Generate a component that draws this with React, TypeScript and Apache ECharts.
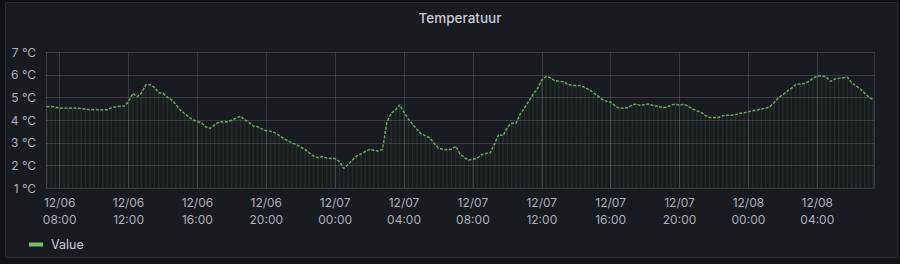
import React, { useEffect, useRef } from "react";
import * as echarts from "echarts";

// Start of series: 2023-12-06 07:15, one reading every 15 minutes
const startTime = [2023, 11, 6, 7, 15];
const stepMinutes = 15;

const temperatures: number[] = [
  // 07:15 - 07:45
  4.6, 4.62, 4.58,
  // 08:00
  4.53, 4.55, 4.53, 4.54,
  // 09:00
  4.53, 4.52, 4.5, 4.46,
  // 10:00
  4.48, 4.47, 4.46, 4.47,
  // 11:00
  4.55, 4.6, 4.62, 4.63,
  // 12:00
  4.82, 5.19, 5.04, 5.2,
  // 13:00
  5.56, 5.58, 5.45, 5.22,
  // 14:00
  5.19, 5.02, 4.9, 4.7,
  // 15:00
  4.46, 4.3, 4.15, 4.01,
  // 16:00
  3.95, 3.88, 3.7, 3.65,
  // 17:00
  3.8, 3.92, 3.94, 3.94,
  // 18:00
  4.0, 4.1, 4.18, 4.02,
  // 19:00
  3.9, 3.75, 3.72, 3.62,
  // 20:00
  3.54, 3.52, 3.45, 3.33,
  // 21:00
  3.2, 3.1, 3.01, 2.92,
  // 22:00
  2.82, 2.72, 2.56, 2.42,
  // 23:00
  2.35, 2.4, 2.33, 2.31,
  // 12/07 00:00
  2.31, 2.18, 1.88, 2.05,
  // 01:00
  2.25, 2.42, 2.52, 2.62,
  // 02:00
  2.72, 2.68, 2.65, 2.72,
  // 03:00
  3.9, 4.31, 4.45, 4.68,
  // 04:00
  4.35, 4.06, 3.82, 3.6,
  // 05:00
  3.4, 3.32, 3.22, 2.98,
  // 06:00
  2.78, 2.72, 2.7, 2.72,
  // 07:00
  2.85, 2.52, 2.35, 2.25,
  // 08:00
  2.28, 2.33, 2.48, 2.54,
  // 09:00
  2.56, 2.95, 3.38, 3.32,
  // 10:00
  3.7, 3.87, 3.87, 4.28,
  // 11:00
  4.55, 4.85, 5.15, 5.4,
  // 12:00
  5.78, 5.93, 5.88, 5.75,
  // 13:00
  5.72, 5.7, 5.6, 5.53,
  // 14:00
  5.53, 5.53, 5.45, 5.35,
  // 15:00
  5.22, 5.08, 4.92, 4.85,
  // 16:00
  4.8, 4.65, 4.53, 4.53,
  // 17:00
  4.56, 4.68, 4.72, 4.65,
  // 18:00
  4.7, 4.72, 4.63, 4.63,
  // 19:00
  4.55, 4.58, 4.66, 4.72,
  // 20:00
  4.66, 4.71, 4.62, 4.5,
  // 21:00
  4.42, 4.35, 4.22, 4.12,
  // 22:00
  4.12, 4.12, 4.2, 4.22,
  // 23:00
  4.22, 4.25, 4.31, 4.33,
  // 12/08 00:00
  4.38, 4.42, 4.45, 4.5,
  // 01:00
  4.53, 4.6, 4.8, 5.0,
  // 02:00
  5.12, 5.28, 5.41, 5.58,
  // 03:00
  5.6, 5.62, 5.72, 5.85,
  // 04:00
  5.95, 5.95, 5.93, 5.72,
  // 05:00
  5.82, 5.85, 5.88, 5.9,
  // 06:00
  5.65, 5.52, 5.38, 5.2,
  // 07:00
  5.02, 4.9,
];

const yTicks = [1, 2, 3, 4, 5, 6, 7];
const seriesName = "Value";
const titleText = "Temperatuur";

const pad = (n: number) => (n < 10 ? "0" + n : "" + n);

export default function App() {
  const ref = useRef<HTMLDivElement>(null);

  useEffect(() => {
    if (!ref.current) return;
    const chart = echarts.init(ref.current, undefined, { renderer: "svg" });
    const t0 = new Date(
      startTime[0],
      startTime[1],
      startTime[2],
      startTime[3],
      startTime[4]
    ).getTime();
    const step = stepMinutes * 60 * 1000;
    const data = temperatures.map((v, i) => [t0 + i * step, v]);
    const tMin = t0;
    const tMax = t0 + (temperatures.length - 1) * step;
    const fourH = 4 * 3600 * 1000;

    chart.setOption({
      animation: false,
      backgroundColor: "transparent",
      graphic: [
        {
          type: "text",
          x: 460,
          y: 18,
          style: {
            text: titleText,
            fill: "#ccccdc",
            fontSize: 13.5,
            fontWeight: 500,
            fontFamily: "Inter, Roboto, sans-serif",
            align: "center",
            verticalAlign: "middle",
          },
        },
      ],
      legend: {
        left: 24,
        top: 233,
        icon: "rect",
        itemWidth: 14,
        itemHeight: 4,
        itemGap: 10,
        textStyle: {
          color: "#ccccdc",
          fontSize: 12.5,
          fontFamily: "Inter, Roboto, sans-serif",
          padding: [0, 0, 0, 3],
        },
        data: [{ name: seriesName, itemStyle: { color: "#73BF69" } }],
      },
      grid: {
        left: 46,
        right: 26,
        top: 52.3,
        bottom: 75.7,
        containLabel: false,
      },
      xAxis: {
        type: "time",
        min: tMin,
        max: tMax,
        minInterval: fourH,
        maxInterval: fourH,
        splitNumber: 12,
        axisLine: { show: false },
        axisTick: { show: false },
        splitLine: {
          show: true,
          lineStyle: { color: "rgba(204,204,220,0.18)", width: 1 },
        },
        axisLabel: {
          color: "rgba(204,204,220,0.85)",
          fontSize: 12,
          fontFamily: "Inter, Roboto, sans-serif",
          lineHeight: 17,
          margin: 6,
          showMinLabel: false,
          showMaxLabel: false,
          formatter: (val: number) => {
            const d = new Date(val);
            return (
              pad(d.getMonth() + 1) +
              "/" +
              pad(d.getDate()) +
              "\n" +
              pad(d.getHours()) +
              ":" +
              pad(d.getMinutes())
            );
          },
        },
      },
      yAxis: {
        type: "value",
        min: yTicks[0],
        max: yTicks[yTicks.length - 1],
        interval: 1,
        axisLine: { show: false },
        axisTick: { show: false },
        splitLine: {
          show: true,
          lineStyle: { color: "rgba(204,204,220,0.18)", width: 1 },
        },
        axisLabel: {
          color: "rgba(204,204,220,0.85)",
          fontSize: 12,
          fontFamily: "Inter, Roboto, sans-serif",
          margin: 10,
          formatter: (v: number) => v + " °C",
        },
      },
      series: [
        {
          name: seriesName + " fill",
          type: "bar",
          data,
          barWidth: 1.5,
          itemStyle: { color: "rgba(115,191,105,0.12)" },
          silent: true,
          legendHoverLink: false,
        },
        {
          name: seriesName,
          type: "line",
          data,
          symbol: "none",
          lineStyle: {
            color: "#73BF69",
            width: 1.5,
            type: [3, 1.5],
            opacity: 0.85,
          },
          itemStyle: { color: "#73BF69" },
          z: 3,
        },
      ],
    });
    return () => chart.dispose();
  }, []);

  return (
    <div
      style={{
        position: "fixed",
        left: 0,
        top: 0,
        width: 900,
        height: 264,
        background: "#111217",
      }}
    >
      <div
        style={{
          position: "absolute",
          left: 5,
          top: 2,
          width: 893,
          height: 256,
          background: "#181b1f",
          border: "1px solid rgba(204,204,220,0.10)",
          borderRadius: 2,
          boxSizing: "border-box",
        }}
      />
      <div
        ref={ref}
        style={{ position: "absolute", left: 0, top: 0, width: 900, height: 264 }}
      />
    </div>
  );
}
